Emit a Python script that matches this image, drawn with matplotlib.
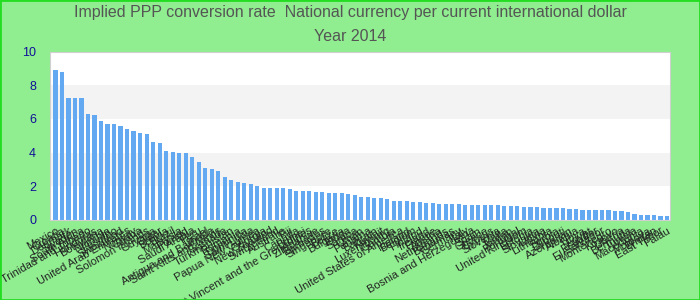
import matplotlib.pyplot as plt
from matplotlib.patches import Rectangle

# pays (ordem decrescente) e valores
countries = [
    'Mexico', 'Croatia', 'Denmark', 'Sweden', 'South Africa',
    'Trinidad and Tobago', 'Honduras', 'Botswana', 'Namibia', 'Lesotho',
    'Swaziland', 'United Arab Emirates', 'Norway', 'Ghana', 'Solomon Islands',
    'Guyana', 'Qatar', 'Bolivia', 'Brazil', 'Malaysia',
    'Poland', 'Saudi Arabia', 'Peru', 'Israel', 'Antigua and Barbuda',
    'Saint Kitts and Nevis', 'Grenada', 'Turkmenistan', 'Romania', 'Dominica',
    'Saint Lucia', 'Papua New Guinea', 'Georgia', 'New Zealand', 'Switzerland',
    'Australia', 'Fiji', 'Canada', 'Brunei', 'Saint Vincent and the Grenadines',
    'Zimbabwe', 'Barbados', 'Singapore', 'Belize', 'Bulgaria',
    'Tonga', 'Samoa', 'Oman', 'Panama', 'Bahrain',
    'Kuwait', 'Luxembourg', 'Gambia', 'United States of America', 'Iceland',
    'Belgium', 'Finland', 'Ireland', 'France', 'Austria',
    'Netherlands', 'Bahamas', 'Germany', 'Italy', 'Bosnia and Herzegovina',
    'Spain', 'Greece', 'Cyprus', 'Slovenia', 'Malta',
    'Jordan', 'Portugal', 'United Kingdom', 'Estonia', 'Slovakia',
    'Latvia', 'Lithuania', 'Serbia', 'Djibouti', 'Azerbaijan',
    'Albania', 'Libya', 'Egypt', 'Ecuador', 'El Salvador',
    'Montenegro', 'Kosovo', 'Liberia', 'Bermuda', 'Tunisia',
    'Macedonia', 'Moldova', 'Bhutan', 'East Timor', 'Palau',
]

values = [
    8.91, 8.79, 7.25, 7.25, 7.25, 6.30, 6.24, 5.88, 5.70, 5.70,
    5.58, 5.41, 5.29, 5.17, 5.11, 4.63, 4.57, 4.10, 4.04, 3.98,
    3.98, 3.74, 3.45, 3.09, 3.03, 2.91, 2.55, 2.38, 2.26, 2.20,
    2.14, 2.02, 1.90, 1.90, 1.90, 1.90, 1.84, 1.72, 1.72, 1.72,
    1.66, 1.66, 1.60, 1.60, 1.60, 1.54, 1.49, 1.37, 1.37, 1.31,
    1.31, 1.25, 1.13, 1.13, 1.13, 1.07, 1.07, 1.01, 1.01, 0.95,
    0.95, 0.95, 0.95, 0.89, 0.89, 0.89, 0.89, 0.89, 0.89, 0.83,
    0.83, 0.83, 0.77, 0.77, 0.77, 0.71, 0.71, 0.71, 0.71, 0.65,
    0.65, 0.59, 0.59, 0.59, 0.59, 0.59, 0.53, 0.53, 0.48, 0.36,
    0.30, 0.30, 0.30, 0.24, 0.24,
]

yticks = [0, 2, 4, 6, 8, 10]

plt.rcParams['font.family'] = ['Liberation Sans', 'DejaVu Sans']

fig = plt.figure(figsize=(7, 3), dpi=100, facecolor='#90ee90')
fig.patches.append(Rectangle((0, 0), 1, 1, transform=fig.transFigure,
                             fill=False, edgecolor='#22dd22', linewidth=2))
ax = fig.add_axes([0.0714, 0.2667, 0.8857, 0.5613])

# faixas alternadas no fundo
for i in range(len(yticks) - 1):
    cor = '#ffffff' if i % 2 == 0 else '#f3f3f3'
    ax.axhspan(yticks[i], yticks[i + 1], color=cor, zorder=0, lw=0)

x = list(range(len(countries)))
ax.bar(x, values, width=0.64, color='#63a9f2', zorder=2)

ax.set_xlim(-0.85, len(countries) - 0.55)
ax.set_ylim(0, 10)
ax.set_yticks(yticks)
ax.set_yticklabels([str(t) for t in yticks], color='#101098', fontsize=9)
ax.set_xticks(x)
ax.set_xticklabels(countries, rotation=30, ha='right', rotation_mode='anchor',
                   fontsize=8, color='#222222')
ax.tick_params(axis='both', length=0)
ax.tick_params(axis='y', pad=10)
ax.tick_params(axis='x', pad=4)

for s in ax.spines.values():
    s.set_color('#d0d0d0')

fig.text(0.5, 0.957, 'Implied PPP conversion rate  National currency per current international dollar',
         ha='center', va='center', fontsize=11.5, color='#555555')
fig.text(0.5, 0.878, 'Year 2014', ha='center', va='center', fontsize=11.5, color='#555555')

fig.savefig('out.png', dpi=100, facecolor=fig.get_facecolor())
